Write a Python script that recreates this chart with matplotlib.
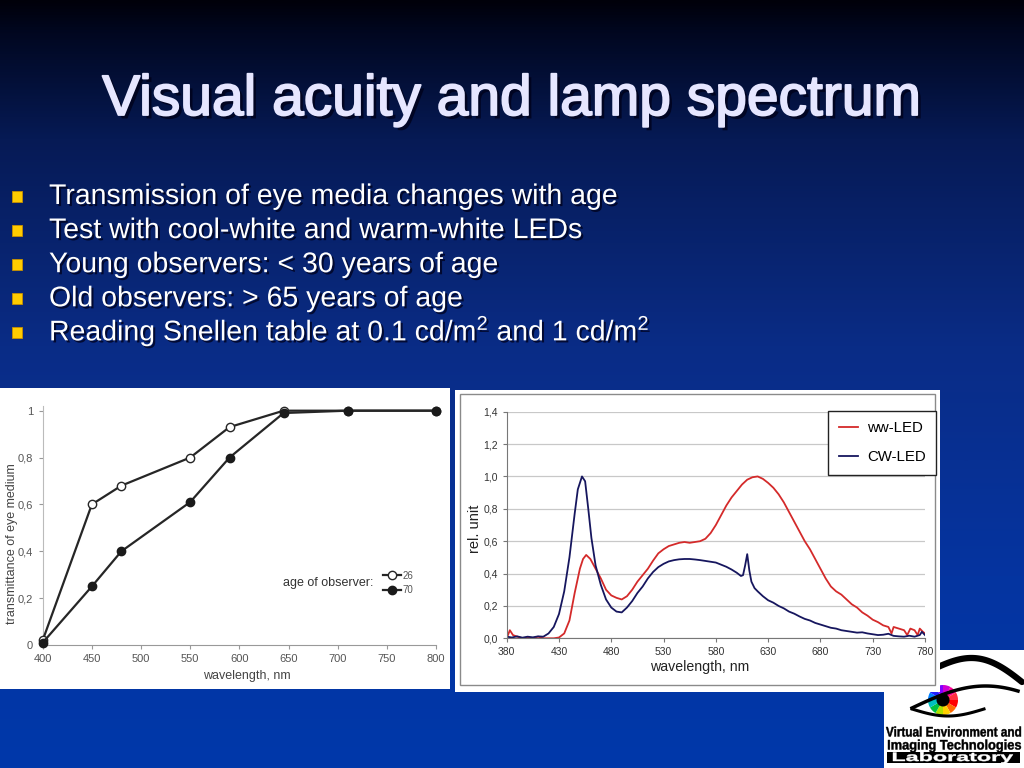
import numpy as np
import matplotlib
matplotlib.use("Agg")
import matplotlib.pyplot as plt
import matplotlib.patheffects as pe
import matplotlib.transforms as mtransforms
from matplotlib.patches import Rectangle, Wedge, Circle, PathPatch
from matplotlib.textpath import TextPath
from matplotlib.font_manager import FontProperties
from matplotlib.colors import LinearSegmentedColormap

plt.rcParams['font.family'] = ['Liberation Sans', 'DejaVu Sans']
plt.rcParams['mathtext.fontset'] = 'custom'
plt.rcParams['mathtext.rm'] = 'Liberation Sans'
plt.rcParams['mathtext.it'] = 'Liberation Sans'

# ---------------- data ----------------
title = "Visual acuity and lamp spectrum"
bullets = [
    "Transmission of eye media changes with age",
    "Test with cool-white and warm-white LEDs",
    "Young observers: < 30 years of age",
    "Old observers: > 65 years of age",
    "Reading Snellen table at 0.1 cd/m$^{2}$ and 1 cd/m$^{2}$",
]

trans_wl = [400, 450, 480, 550, 590, 645, 710, 800]
trans_young = [0.02, 0.60, 0.68, 0.80, 0.93, 1.00, 1.00, 1.00]
trans_old = [0.01, 0.25, 0.40, 0.61, 0.80, 0.99, 1.00, 1.00]
age_labels = ["26", "70"]
trans_xticks = [400, 450, 500, 550, 600, 650, 700, 750, 800]
trans_yticks = [0, 0.2, 0.4, 0.6, 0.8, 1.0]
trans_yticklabels = ["0", "0,2", "0,4", "0,6", "0,8", "1"]

cw_wl = [380, 385, 390, 395, 400, 405, 410, 415, 420, 425, 430, 435, 440, 445, 448,
         452, 455, 458, 461, 465, 470, 475, 480, 485, 490, 495, 500, 505, 510, 515,
         520, 525, 530, 535, 540, 545, 550, 555, 560, 565, 570, 575, 580, 585, 590,
         595, 600, 604, 606, 608, 610, 612, 614, 617, 620, 625, 630, 635, 640, 645,
         650, 655, 660, 665, 670, 675, 680, 685, 690, 695, 700, 705, 710, 715, 720,
         725, 730, 735, 740, 745, 750, 755, 760, 765, 770, 775, 777, 780]
cw_val = [0.01, 0.005, 0.012, 0.004, 0.01, 0.006, 0.012, 0.01, 0.03, 0.07, 0.15, 0.29, 0.50, 0.77, 0.92,
          1.00, 0.97, 0.80, 0.62, 0.45, 0.33, 0.24, 0.19, 0.165, 0.16, 0.19, 0.23, 0.28, 0.32, 0.37,
          0.41, 0.44, 0.46, 0.475, 0.483, 0.488, 0.49, 0.49, 0.487, 0.483, 0.478, 0.473, 0.468, 0.455, 0.442,
          0.425, 0.405, 0.385, 0.39, 0.45, 0.52, 0.42, 0.35, 0.31, 0.29, 0.26, 0.235, 0.22, 0.20, 0.185,
          0.165, 0.152, 0.135, 0.12, 0.11, 0.095, 0.085, 0.075, 0.065, 0.06, 0.05, 0.045, 0.04, 0.035, 0.037,
          0.03, 0.025, 0.02, 0.022, 0.028, 0.015, 0.012, 0.01, 0.016, 0.01, 0.02, 0.04, 0.02]

ww_wl = [380, 383, 386, 390, 395, 400, 405, 410, 415, 420, 425, 430, 435, 440, 445,
         450, 453, 456, 460, 465, 470, 475, 480, 485, 490, 495, 500, 505, 510, 515,
         520, 525, 530, 535, 540, 545, 550, 555, 560, 565, 570, 575, 580, 585, 590,
         595, 600, 605, 610, 615, 620, 625, 630, 635, 640, 645, 650, 655, 660, 665,
         670, 675, 680, 685, 690, 695, 700, 705, 710, 715, 720, 725, 730, 735, 740,
         745, 748, 750, 755, 760, 763, 766, 770, 773, 775, 778, 780]
ww_val = [0.0, 0.05, 0.02, 0.01, 0.0, 0.005, 0.0, 0.01, 0.0, 0.0, 0.0, 0.005, 0.03, 0.11, 0.28,
          0.43, 0.49, 0.515, 0.49, 0.43, 0.37, 0.30, 0.265, 0.25, 0.24, 0.26, 0.30, 0.35, 0.39, 0.43,
          0.48, 0.525, 0.55, 0.57, 0.58, 0.59, 0.595, 0.59, 0.595, 0.60, 0.615, 0.65, 0.70, 0.76, 0.82,
          0.87, 0.91, 0.95, 0.98, 0.995, 1.00, 0.985, 0.96, 0.93, 0.89, 0.84, 0.78, 0.72, 0.66, 0.60,
          0.55, 0.49, 0.43, 0.37, 0.32, 0.29, 0.27, 0.24, 0.21, 0.19, 0.16, 0.14, 0.115, 0.10, 0.08,
          0.07, 0.03, 0.07, 0.06, 0.05, 0.02, 0.06, 0.05, 0.02, 0.06, 0.04, 0.03]
spec_labels = ["ww-LED", "CW-LED"]
spec_xticks = [380, 430, 480, 530, 580, 630, 680, 730, 780]
spec_yticks = [0.0, 0.2, 0.4, 0.6, 0.8, 1.0, 1.2, 1.4]
spec_yticklabels = ["0,0", "0,2", "0,4", "0,6", "0,8", "1,0", "1,2", "1,4"]

logo_lines = ["Virtual Environment and", "Imaging Technologies", "Laboratory"]

# ---------------- figure ----------------
W, H = 1024, 768
fig = plt.figure(figsize=(W / 100, H / 100), dpi=100)
T = mtransforms.Affine2D().scale(1 / W, -1 / H).translate(0, 1) + fig.transFigure


def px_axes(x0, y0, x1, y1, **kw):
    return fig.add_axes([x0 / W, 1 - y1 / H, (x1 - x0) / W, (y1 - y0) / H], **kw)


def blank(ax):
    ax.set_xticks([])
    ax.set_yticks([])
    for s in ax.spines.values():
        s.set_visible(False)


# background
bg = px_axes(0, 0, W, H)
cmap = LinearSegmentedColormap.from_list(
    "bg", [(0.0, "#00000a"), (0.04, "#010720"), (0.18, "#061a55"),
           (0.45, "#0a2c86"), (0.75, "#0534a0"), (1.0, "#0038aa")])
grad = np.linspace(0, 1, 512).reshape(-1, 1)
bg.imshow(grad, extent=[0, W, H, 0], aspect="auto", cmap=cmap, interpolation="bilinear")
bg.set_xlim(0, W)
bg.set_ylim(H, 0)
bg.axis("off")

title_fx = [pe.SimplePatchShadow(offset=(2.5, -2.5), shadow_rgbFace="#000018", alpha=0.75),
            pe.withStroke(linewidth=1.3, foreground="#e6e6ff")]
bg.text(512, 115, title, ha="center", va="baseline", fontsize=41, color="#e6e6ff",
        path_effects=title_fx)

shadow2 = [pe.SimplePatchShadow(offset=(1.5, -1.5), shadow_rgbFace="#000018", alpha=0.75),
           pe.Normal()]
for i, b in enumerate(bullets):
    yb = 204 + i * 34.1
    bg.add_patch(Rectangle((12, yb - 13), 9.5, 10.5, facecolor="#ffcc00", edgecolor="#c89000", lw=0.6))
    bg.text(49, yb, b, ha="left", va="baseline", fontsize=20.5, color="white", path_effects=shadow2)

# logo (behind chart panel)
bg.add_patch(Rectangle((884, 650), 140, 118, facecolor="white", edgecolor="none"))
t = np.linspace(0, 1, 60)
bx = 938 + 84 * t
by = 667 - 12 * np.sin(np.pi * t) + 15 * t ** 2
bg.plot(bx, by, color="black", lw=4.5, solid_capstyle="round")
ux = 912 + 106 * t
uy = 708 - 22 * np.sin(np.pi * t * 0.72)
bg.plot(ux, uy, color="black", lw=2.5)
lx = 912 + 72 * t
ly = 709 + 7 * np.sin(np.pi * t)
bg.plot(lx, ly, color="black", lw=2.2)
wheel_colors = ["#ff0000", "#ff6a00", "#ffd000", "#b0e000", "#00c040", "#00c0c0",
                "#0080ff", "#2020ff", "#8000ff", "#d000d0", "#ff0090", "#ff3040"]
for k, c in enumerate(wheel_colors):
    bg.add_patch(Wedge((943, 700), 15, k * 30, (k + 1) * 30, facecolor=c, edgecolor="none"))
bg.add_patch(Circle((943, 700), 6.5, facecolor="black"))

bold_fp = FontProperties(family="Liberation Sans", weight="bold")


def fitted_text(s, x0, x1, baseline, cap, color):
    tp = TextPath((0, 0), s, size=10, prop=bold_fp)
    ext = tp.get_extents()
    capref = TextPath((0, 0), "I", size=10, prop=bold_fp).get_extents().height
    sx = (x1 - x0) / ext.width
    sy = cap / capref
    tr = mtransforms.Affine2D().translate(-ext.x0, 0).scale(sx, -sy).translate(x0, baseline) + bg.transData
    bg.add_patch(PathPatch(tp, transform=tr, facecolor=color, edgecolor=color, lw=0.3))


fitted_text(logo_lines[0], 886, 1021, 736.5, 9.5, "black")
fitted_text(logo_lines[1], 888, 1021, 749.5, 9.5, "black")
bg.add_patch(Rectangle((887, 751.5), 133, 11, facecolor="black"))
fitted_text(logo_lines[2], 893, 1013, 761, 8.5, "white")

# ---------------- left chart ----------------
lp = px_axes(0, 388, 450, 689)
lp.set_facecolor("white")
blank(lp)

ax1 = px_axes(42.7, 406, 436, 645)
ax1.set_facecolor("white")
ax1.set_xlim(400, 800)
ax1.set_ylim(0, 1.02)
ax1.plot(trans_wl, trans_young, color="#262626", lw=1.6, marker="o", ms=6,
         mfc="white", mec="#262626", mew=1.0, clip_on=False, zorder=3, label=age_labels[0])
ax1.plot(trans_wl, trans_old, color="#262626", lw=1.6, marker="o", ms=6,
         mfc="#1a1a1a", mec="#1a1a1a", mew=1.0, clip_on=False, zorder=4, label=age_labels[1])
ax1.set_xticks(trans_xticks)
ax1.set_yticks(trans_yticks)
ax1.set_yticklabels(trans_yticklabels)
for s in ["top", "right"]:
    ax1.spines[s].set_visible(False)
ax1.spines["left"].set_color("#bbbbbb")
ax1.spines["bottom"].set_color("#999999")
ax1.tick_params(axis="both", labelsize=8, colors="#555555", length=3, width=0.8,
                direction="out", color="#999999")
ax1.tick_params(axis="y", pad=4)
ax1.text(246.5, 676, "wavelength, nm", transform=T, ha="center", va="center", fontsize=9,
         color="#444444")
ax1.text(12, 544, "transmittance of eye medium", transform=T, ha="center", va="center",
         rotation=90, fontsize=9, color="#444444")
ax1.legend(loc="upper left", bbox_to_anchor=(378 / W, 1 - 566 / H), bbox_transform=fig.transFigure,
           frameon=False, fontsize=7, handlelength=1.9, handletextpad=0.1, labelspacing=0.45,
           borderpad=0, labelcolor="#555555")
ax1.text(283, 583, "age of observer:", transform=T, ha="left", va="center", fontsize=9,
         color="#333333")

# ---------------- right chart ----------------
rp = px_axes(455, 390, 940, 692)
rp.set_facecolor("white")
blank(rp)
rp.add_patch(Rectangle((460, 394), 475, 291, transform=T, facecolor="none",
                       edgecolor="#8a8a8a", lw=1.0))

ax2 = px_axes(506.7, 411.7, 925, 638.3)
ax2.set_facecolor("white")
ax2.set_xlim(380, 780)
ax2.set_ylim(0, 1.4)
ax2.set_yticks(spec_yticks)
ax2.set_yticklabels(spec_yticklabels)
ax2.set_xticks(spec_xticks)
ax2.grid(axis="y", color="#c8c8c8", lw=0.9)
ax2.set_axisbelow(True)
l_ww, = ax2.plot(ww_wl, ww_val, color="#d42a2a", lw=1.3)
l_cw, = ax2.plot(cw_wl, cw_val, color="#16165e", lw=1.3)
for s in ["top", "right"]:
    ax2.spines[s].set_visible(False)
ax2.spines["left"].set_color("#777777")
ax2.spines["bottom"].set_color("#777777")
ax2.tick_params(axis="both", labelsize=7.5, colors="#333333", length=3, width=0.8,
                direction="out", color="#777777")
ax2.text(700, 667, "wavelength, nm", transform=T, ha="center", va="center", fontsize=10.2,
         color="#222222")
ax2.text(475, 529, "rel. unit", transform=T, ha="center", va="center", rotation=90,
         fontsize=10.5, color="#222222")
leg = ax2.legend([l_ww, l_cw], spec_labels, loc="upper left",
                 bbox_to_anchor=(828 / W, 1 - 410.7 / H), bbox_transform=fig.transFigure,
                 frameon=True, fancybox=False, edgecolor="#222222", fontsize=10.8,
                 handlelength=1.3, handletextpad=0.6, labelspacing=1.0, borderpad=0.7,
                 borderaxespad=0, framealpha=1)
leg.get_frame().set_linewidth(1.0)

fig.savefig("out.png", dpi=100)
